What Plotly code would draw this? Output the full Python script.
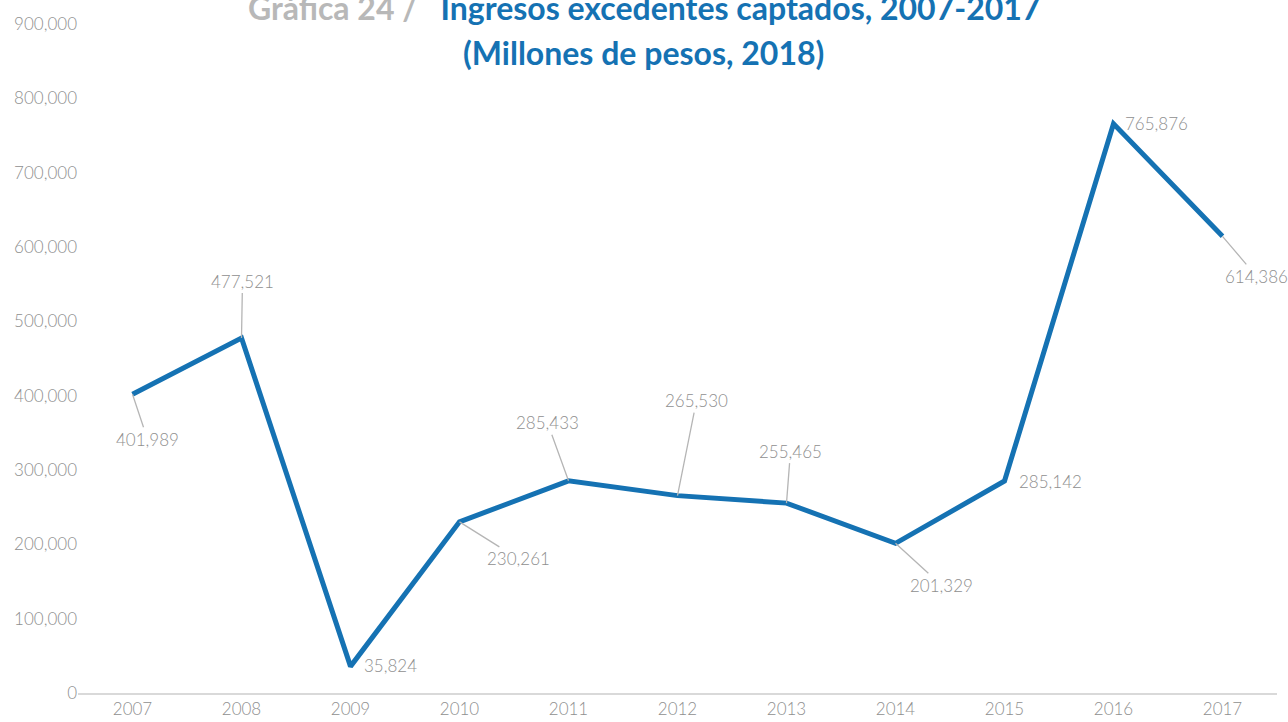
import plotly.graph_objects as go

# Ingresos excedentes captados (millones de pesos de 2018)
years = ["2007", "2008", "2009", "2010", "2011", "2012",
         "2013", "2014", "2015", "2016", "2017"]
ingresos = [401989, 477521, 35824, 230261, 285433, 265530,
            255465, 201329, 285142, 765876, 614386]

# label placement per point: (dx, dy, leader line)
label_offsets = [(15, 45, True), (1, -57, True), (40, -1, False), (59, 37, True),
                 (-21, -58, True), (19, -95, True), (4, -52, True), (46, 42, True),
                 (46, 0, False), (43, 0, False), (34, 40, True)]

y_ticks = list(range(0, 900001, 100000))
y_ticktext = ["0"] + [f"{v:,}" for v in y_ticks[1:]]

BLUE = "#1572b3"
GRAY = "#8f8f8f"
FONT = "Lato"

fig = go.Figure()
fig.add_trace(go.Scatter(
    x=years, y=ingresos, mode="lines",
    line=dict(color=BLUE, width=5),
    hoverinfo="skip",
))

annotations = []
for i, (val, (dx, dy, leader)) in enumerate(zip(ingresos, label_offsets)):
    txt = f"{val:,}"
    base = dict(x=i, y=val, xref="x", yref="y", text=txt,
                xanchor="center", yanchor="middle",
                font=dict(family=FONT, size=17, color=GRAY, weight=300))
    if leader:
        base.update(showarrow=True, arrowhead=0, arrowwidth=1.3,
                    arrowcolor="#b5b5b5", ax=dx, ay=dy, standoff=0)
    else:
        base.update(showarrow=False, xshift=dx, yshift=-dy)
    annotations.append(base)

# two-line heading
annotations.append(dict(
    x=0.472, y=1.024, xref="paper", yref="paper", showarrow=False,
    xanchor="center", yanchor="middle",
    text="<span style='color:#b8b8b8'>Gráfica 24 /</span>"
         "<span style='color:#1572b3'>   Ingresos excedentes captados, 2007-2017</span>",
    font=dict(family=FONT, size=32, weight=700),
))
annotations.append(dict(
    x=0.472, y=0.958, xref="paper", yref="paper", showarrow=False,
    xanchor="center", yanchor="middle",
    text="(Millones de pesos, 2018)",
    font=dict(family=FONT, size=32, color=BLUE, weight=700),
))

fig.update_layout(
    width=1288, height=722,
    margin=dict(l=78, r=11, t=24, b=29),
    paper_bgcolor="white", plot_bgcolor="white",
    showlegend=False,
    annotations=annotations,
    xaxis=dict(
        type="category", range=[-0.5, 10.5], automargin=False,
        showgrid=False, zeroline=False,
        showline=True, linecolor="#d9d9d9", linewidth=1.5,
        ticks="", tickfont=dict(family=FONT, size=17, color=GRAY, weight=300),
    ),
    yaxis=dict(
        range=[0, 900000], tickvals=y_ticks, ticktext=y_ticktext, automargin=False,
        showgrid=False, zeroline=False, showline=False, ticks="",
        tickfont=dict(family=FONT, size=17, color=GRAY, weight=300),
    ),
)

fig.write_html("out.html")
